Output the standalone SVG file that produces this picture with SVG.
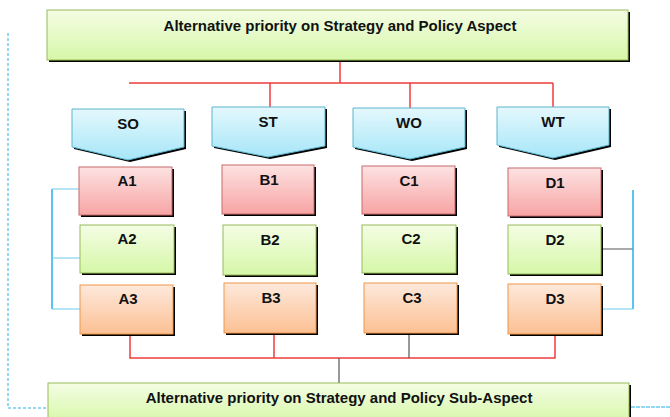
<svg xmlns="http://www.w3.org/2000/svg" width="670" height="417" viewBox="0 0 670 417">
<defs>
<linearGradient id="gGreen" x1="0" y1="0" x2="0" y2="1"><stop offset="0" stop-color="#f4fde4"/><stop offset="1" stop-color="#d6f7a8"/></linearGradient>
<linearGradient id="gRed" x1="0" y1="0" x2="0" y2="1"><stop offset="0" stop-color="#fde2e2"/><stop offset="1" stop-color="#f8a4a4"/></linearGradient>
<linearGradient id="gOrange" x1="0" y1="0" x2="0" y2="1"><stop offset="0" stop-color="#fde9dc"/><stop offset="1" stop-color="#fcc093"/></linearGradient>
<linearGradient id="gBlue" x1="0" y1="0" x2="0" y2="1"><stop offset="0" stop-color="#e4f8fd"/><stop offset="1" stop-color="#a6e6f8"/></linearGradient>
</defs>
<style>
.sh{fill:#000}
.green{fill:url(#gGreen);stroke:#98bb5a;stroke-width:1}
.red{fill:url(#gRed);stroke:#c86a6a;stroke-width:1}
.orange{fill:url(#gOrange);stroke:#f0954a;stroke-width:1}
.blue{fill:url(#gBlue);stroke:#5cb4cc;stroke-width:1}
text{font-family:"Liberation Sans",Arial,sans-serif;font-weight:bold;fill:#111;text-anchor:middle}
.t{font-size:15px}
.l{font-size:15px}
.cr{fill:none;stroke:#f03c3c;stroke-width:1.5}
.cg{fill:none;stroke:#555;stroke-width:1.2}
.cb{fill:none;stroke:#2ab0ee;stroke-width:1.5}
.cbl{fill:none;stroke:#6ccaf0;stroke-width:1}
.cd{fill:none;stroke:#2aaee8;stroke-width:1;stroke-dasharray:3 2}
.cd2{fill:none;stroke:#8ed8f4;stroke-width:2;stroke-dasharray:4 1}
</style>
<g id="connectors">
<path class="cr" d="M340,62 V83 M129,83 H553 M270,83 V107 M410,83 V108 M553,83 V107"/>
<path class="cr" d="M130,336 V358 H555 V336 M274,335 V358"/>
<path class="cg" d="M409,335 V358 M339,358 V383 M603,249 H633"/>
<path class="cb" d="M52,189 V309 M633,190 V309"/>
<path class="cbl" d="M80,189 H52 M52,258 H80 M52,309 H80 M633,309 H603"/>
<path class="cd" d="M8,33 V408 H48"/>
<path class="cd2" d="M631,407 H670"/>
</g>
<g id="top">
<rect class="sh" x="49" y="12" width="581" height="50"/>
<rect class="green" x="47" y="10" width="581" height="50"/>
<text class="t" x="340" y="31">Alternative priority on Strategy and Policy Aspect</text>
</g>
<g id="SO">
<path class="sh" d="M74,111 H186 V149 L130,162 L74,149 Z"/>
<path class="blue" d="M72,109 H184 V147 L128,160 L72,147 Z"/>
<text class="l" x="128" y="129">SO</text>
</g>
<g id="ST">
<path class="sh" d="M214,109 H327 V148 L270,159 L214,148 Z"/>
<path class="blue" d="M212,107 H325 V146 L268,157 L212,146 Z"/>
<text class="l" x="268" y="127">ST</text>
</g>
<g id="WO">
<path class="sh" d="M355,110 H467 V149 L412,161 L355,149 Z"/>
<path class="blue" d="M353,108 H465 V147 L410,159 L353,147 Z"/>
<text class="l" x="409" y="128">WO</text>
</g>
<g id="WT">
<path class="sh" d="M499,109 H611 V147 L555,160 L499,147 Z"/>
<path class="blue" d="M497,107 H609 V145 L553,158 L497,145 Z"/>
<text class="l" x="553" y="127">WT</text>
</g>
<g id="A1"><rect class="sh" x="81" y="169" width="93" height="48"/><rect class="red" x="79" y="167" width="93" height="48"/><text class="l" x="127" y="186">A1</text></g>
<g id="A2"><rect class="sh" x="82" y="227" width="94" height="48"/><rect class="green" x="80" y="225" width="94" height="48"/><text class="l" x="127" y="244">A2</text></g>
<g id="A3"><rect class="sh" x="82" y="287" width="93" height="49"/><rect class="orange" x="80" y="285" width="93" height="49"/><text class="l" x="128" y="304">A3</text></g>
<g id="B1"><rect class="sh" x="224" y="167" width="92" height="49"/><rect class="red" x="222" y="165" width="92" height="49"/><text class="l" x="269" y="185">B1</text></g>
<g id="B2"><rect class="sh" x="225" y="227" width="93" height="50"/><rect class="green" x="223" y="225" width="93" height="50"/><text class="l" x="270" y="245">B2</text></g>
<g id="B3"><rect class="sh" x="226" y="285" width="92" height="50"/><rect class="orange" x="224" y="283" width="92" height="50"/><text class="l" x="271" y="303">B3</text></g>
<g id="C1"><rect class="sh" x="364" y="168" width="93" height="48"/><rect class="red" x="362" y="166" width="93" height="48"/><text class="l" x="409" y="186">C1</text></g>
<g id="C2"><rect class="sh" x="364" y="227" width="94" height="48"/><rect class="green" x="362" y="225" width="94" height="48"/><text class="l" x="411" y="244">C2</text></g>
<g id="C3"><rect class="sh" x="366" y="285" width="93" height="50"/><rect class="orange" x="364" y="283" width="93" height="50"/><text class="l" x="412" y="303">C3</text></g>
<g id="D1"><rect class="sh" x="510" y="170" width="93" height="48"/><rect class="red" x="508" y="168" width="93" height="48"/><text class="l" x="555" y="188">D1</text></g>
<g id="D2"><rect class="sh" x="510" y="227" width="93" height="49"/><rect class="green" x="508" y="225" width="93" height="49"/><text class="l" x="555" y="245">D2</text></g>
<g id="D3"><rect class="sh" x="510" y="286" width="93" height="50"/><rect class="orange" x="508" y="284" width="93" height="50"/><text class="l" x="555" y="304">D3</text></g>
<g id="bottom">
<rect class="sh" x="50" y="385" width="581" height="40"/>
<rect class="green" x="48" y="383" width="581" height="40"/>
<text class="t" x="339" y="403">Alternative priority on Strategy and Policy Sub-Aspect</text>
</g>
</svg>
